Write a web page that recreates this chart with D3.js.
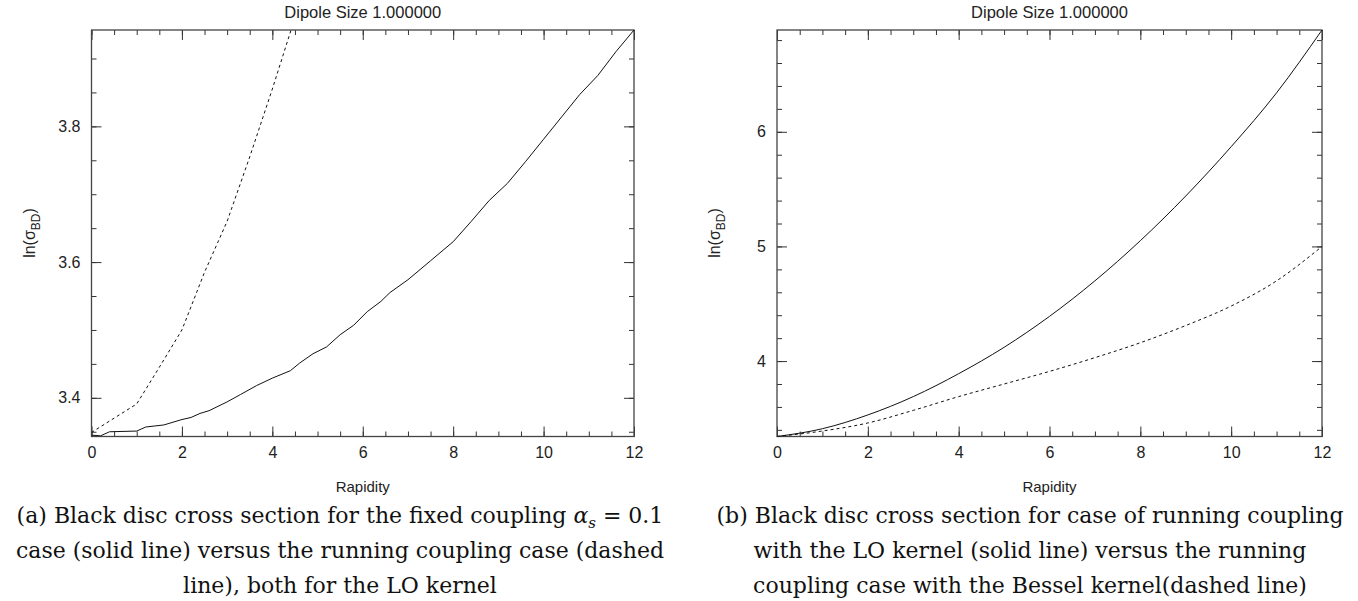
<!DOCTYPE html>
<html>
    <head>
        <meta charset="utf-8"/>
        <script src="https://d3js.org/d3.v7.min.js"></script>
        <style>
            body { margin: 0; background: #fff; }
            .tick text { font-family: "Liberation Sans", Arial, sans-serif; font-size: 16px; fill: #222; }
            .lbl { font-family: "Liberation Sans", Arial, sans-serif; fill: #222; }
            .cap { font-family: "DejaVu Serif", serif; font-size: 22px; fill: #111; }
        </style>
    </head>
    <body>
        <svg id="fig" width="1358" height="601"></svg>
        <script>

            // tick labels
            var xTicks = [0, 2, 4, 6, 8, 10, 12];
            var leftYTicks = [3.4, 3.6, 3.8];
            var rightYTicks = [4, 5, 6];

            // (a) fixed coupling (solid) vs running coupling (dashed), LO kernel
            var aSolidX = [0, 0.2, 0.4, 1.0, 1.2, 1.6, 2.0, 2.2, 2.4, 2.6, 3.0, 3.3, 3.65, 4.0, 4.4, 4.6, 4.9, 5.2, 5.5, 5.8, 6.1, 6.4, 6.6, 7.0, 7.5, 8.0, 8.4, 8.8, 9.2, 9.6, 10.0, 10.4, 10.8, 11.2, 11.6, 12];
            var aSolidY = [3.345, 3.344, 3.350, 3.351, 3.357, 3.360, 3.368, 3.371, 3.377, 3.381, 3.394, 3.405, 3.418, 3.429, 3.440, 3.451, 3.465, 3.475, 3.493, 3.507, 3.527, 3.542, 3.555, 3.574, 3.602, 3.630, 3.660, 3.691, 3.716, 3.748, 3.781, 3.814, 3.847, 3.875, 3.910, 3.942];
            var aDashX = [0, 0.5, 1, 1.5, 2, 2.5, 3, 3.5, 4, 4.5];
            var aDashY = [3.349, 3.370, 3.391, 3.445, 3.500, 3.585, 3.660, 3.755, 3.855, 3.960];

            // (b) running coupling LO kernel (solid) vs Bessel kernel (dashed)
            var bX = [0, 1, 2, 3, 4, 5, 6, 7, 8, 9, 10, 11, 12];
            var bSolidY = [3.342, 3.41, 3.53, 3.69, 3.89, 4.12, 4.39, 4.70, 5.05, 5.44, 5.87, 6.34, 6.888];
            var bDashY = [3.342, 3.39, 3.46, 3.57, 3.69, 3.80, 3.91, 4.03, 4.16, 4.31, 4.48, 4.70, 5.0];

            var svg = d3.select("#fig");
            var plotTop = 30, plotBottom = 436.5;

            function zip(xs, ys) { return xs.map(function(x, i) { return [x, ys[i]]; }); }

            function panel(o) {
                var x = d3.scaleLinear().domain([0, 12]).range([o.left, o.right]);
                var y = d3.scaleLinear().domain(o.ydom).range([plotBottom, plotTop]);
                var g = svg.append("g");

                var xMinor = d3.range(0, 12.01, 0.5);
                var yMinor = d3.range(Math.ceil(o.ydom[0] / o.ystep - 1e-6) * o.ystep, o.ydom[1], o.ystep);

                // minor ticks on all four sides
                g.append("g").attr("transform", "translate(0," + plotBottom + ")")
                    .call(d3.axisBottom(x).tickValues(xMinor).tickSize(-5).tickFormat(""));
                g.append("g").attr("transform", "translate(0," + plotTop + ")")
                    .call(d3.axisTop(x).tickValues(xMinor).tickSize(-5).tickFormat(""));
                g.append("g").attr("transform", "translate(" + o.left + ",0)")
                    .call(d3.axisLeft(y).tickValues(yMinor).tickSize(-5).tickFormat(""));
                g.append("g").attr("transform", "translate(" + o.right + ",0)")
                    .call(d3.axisRight(y).tickValues(yMinor).tickSize(-5).tickFormat(""));

                // major ticks
                g.append("g").attr("transform", "translate(0," + plotBottom + ")")
                    .call(d3.axisBottom(x).tickValues(xTicks).tickSize(-10).tickPadding(10).tickFormat(d3.format("d")));
                g.append("g").attr("transform", "translate(0," + plotTop + ")")
                    .call(d3.axisTop(x).tickValues(xTicks).tickSize(-10).tickFormat(""));
                g.append("g").attr("transform", "translate(" + o.left + ",0)")
                    .call(d3.axisLeft(y).tickValues(o.yticks).tickSize(-10).tickPadding(11).tickFormat(o.yfmt));
                g.append("g").attr("transform", "translate(" + o.right + ",0)")
                    .call(d3.axisRight(y).tickValues(o.yticks).tickSize(-10).tickFormat(""));

                g.selectAll(".domain").remove();
                g.selectAll(".tick line").attr("stroke", "#333");

                // frame
                g.append("rect").attr("x", o.left).attr("y", plotTop)
                    .attr("width", o.right - o.left).attr("height", plotBottom - plotTop)
                    .attr("fill", "none").attr("stroke", "#444").attr("stroke-width", 1.3);

                var clipId = "clip" + o.id;
                svg.append("clipPath").attr("id", clipId).append("rect")
                    .attr("x", o.left).attr("y", plotTop).attr("width", o.right - o.left).attr("height", plotBottom - plotTop);

                o.series.forEach(function(s) {
                    var line = d3.line().x(function(d) { return x(d[0]); }).y(function(d) { return y(d[1]); })
                        .curve(s.curve || d3.curveLinear);
                    g.append("path").datum(s.data)
                        .attr("clip-path", "url(#" + clipId + ")")
                        .attr("d", line)
                        .attr("fill", "none").attr("stroke", "#111").attr("stroke-width", 1)
                        .attr("stroke-dasharray", s.dash ? "3,3" : null);
                });

                var cx = (o.left + o.right) / 2;
                g.append("text").attr("class", "lbl").attr("x", cx).attr("y", 18)
                    .attr("text-anchor", "middle").style("font-size", "16.5px").text("Dipole Size 1.000000");
                g.append("text").attr("class", "lbl").attr("x", cx).attr("y", 492)
                    .attr("text-anchor", "middle").style("font-size", "15px").text("Rapidity");

                var yl = g.append("text").attr("class", "lbl")
                    .attr("transform", "translate(" + (o.left - 57) + "," + 233 + ") rotate(-90)")
                    .attr("text-anchor", "middle").style("font-size", "16px");
                yl.append("tspan").text("ln(\u03c3");
                yl.append("tspan").attr("dy", 5).style("font-size", "12px").text("BD");
                yl.append("tspan").attr("dy", -5).text(")");

                o.caption.forEach(function(line, i) {
                    var t = g.append("text").attr("class", "cap").attr("x", o.capX).attr("y", 523 + i * 35)
                        .attr("text-anchor", "middle");
                    line.forEach(function(part) {
                        var ts = t.append("tspan").text(part.t);
                        if (part.it) ts.style("font-style", "italic");
                        if (part.sub) ts.attr("dy", 5).style("font-size", "15px");
                        if (part.up) ts.attr("dy", -5);
                    });
                });
            }

            panel({
                id: "a", left: 91.5, right: 634, ydom: [3.343, 3.942], ystep: 0.05,
                yticks: leftYTicks, yfmt: d3.format(".1f"), capX: 340,
                series: [
                    { data: zip(aSolidX, aSolidY) },
                    { data: zip(aDashX, aDashY), dash: true }
                ],
                caption: [
                    [{ t: "(a) Black disc cross section for the fixed coupling " }, { t: "\u03b1", it: true }, { t: "s", it: true, sub: true }, { t: " = 0.1", up: true }],
                    [{ t: "case (solid line) versus the running coupling case (dashed" }],
                    [{ t: "line), both for the LO kernel" }]
                ]
            });

            panel({
                id: "b", left: 777, right: 1322, ydom: [3.342, 6.888], ystep: 0.2,
                yticks: rightYTicks, yfmt: d3.format("d"), capX: 1030,
                series: [
                    { data: zip(bX, bSolidY), curve: d3.curveMonotoneX },
                    { data: zip(bX, bDashY), dash: true, curve: d3.curveMonotoneX }
                ],
                caption: [
                    [{ t: "(b) Black disc cross section for case of running coupling" }],
                    [{ t: "with the LO kernel (solid line) versus the running" }],
                    [{ t: "coupling case with the Bessel kernel(dashed line)" }]
                ]
            });

        </script>
    </body>
</html>
